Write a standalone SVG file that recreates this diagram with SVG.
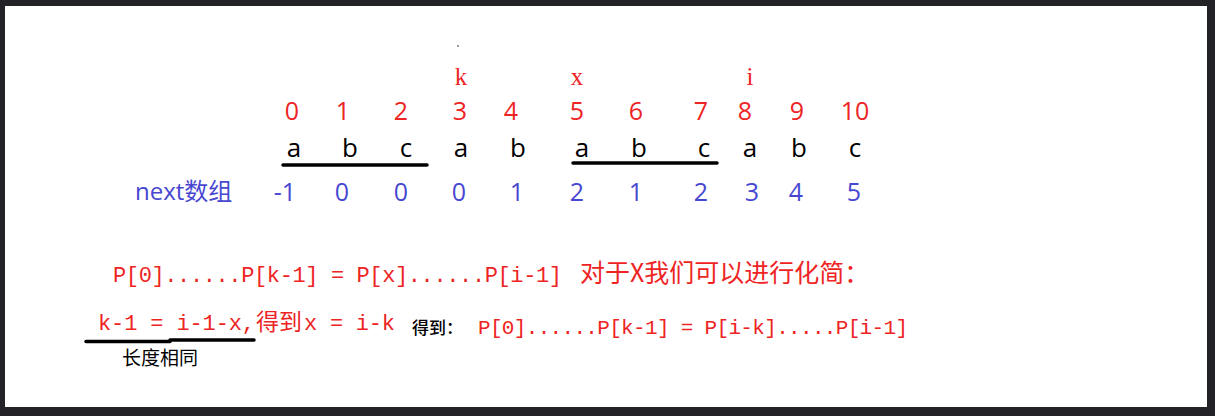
<svg xmlns="http://www.w3.org/2000/svg" width="1215" height="416" viewBox="0 0 1215 416">
<style>
.idx{font-family:"Open Sans","Noto Sans",sans-serif;font-size:25px;fill:#ee2424;text-anchor:middle}
.ch{font-family:"Open Sans","Noto Sans",sans-serif;font-size:26px;fill:#000;text-anchor:middle}
.nx{font-family:"Open Sans","Noto Sans",sans-serif;font-size:25px;fill:#4747d1;text-anchor:middle}
.ptr{font-family:"Liberation Serif",serif;font-size:25px;fill:#ee2424;text-anchor:middle}
.mono{font-family:"Liberation Mono",monospace;fill:#ee2424}
.cjk{font-family:"Noto Sans CJK SC",sans-serif}
.ul{stroke:#000;stroke-width:3.5;stroke-linecap:round;fill:none}
</style>
<rect x="0" y="0" width="1215" height="416" fill="#232327"/>
<rect x="5" y="6" width="1202" height="401" fill="#fff"/>
<rect x="457" y="45" width="2" height="2" fill="#999"/>
<g id="pointers">
<text class="ptr" x="461" y="85">k</text>
<text class="ptr" x="577" y="85">x</text>
<text class="ptr" x="750" y="85">i</text>
</g>
<g id="indices">
<text class="idx" x="292" y="120">0</text>
<text class="idx" x="343" y="120">1</text>
<text class="idx" x="401" y="120">2</text>
<text class="idx" x="460" y="120">3</text>
<text class="idx" x="511" y="120">4</text>
<text class="idx" x="577" y="120">5</text>
<text class="idx" x="636" y="120">6</text>
<text class="idx" x="701" y="120">7</text>
<text class="idx" x="745" y="120">8</text>
<text class="idx" x="797" y="120">9</text>
<text class="idx" x="855" y="120">10</text>
</g>
<g id="chars">
<text class="ch" x="294" y="157">a</text>
<text class="ch" x="350" y="157">b</text>
<text class="ch" x="406" y="157">c</text>
<text class="ch" x="461" y="157">a</text>
<text class="ch" x="518" y="157">b</text>
<text class="ch" x="582" y="157">a</text>
<text class="ch" x="639" y="157">b</text>
<text class="ch" x="704" y="157">c</text>
<text class="ch" x="750" y="157">a</text>
<text class="ch" x="799" y="157">b</text>
<text class="ch" x="855" y="157">c</text>
</g>
<g id="underlines">
<line class="ul" x1="283" y1="165" x2="427" y2="165"/>
<line class="ul" x1="573" y1="163" x2="717" y2="163"/>
</g>
<g id="next">
<text x="135" y="200" font-family="Open Sans,Noto Sans CJK SC,sans-serif" font-size="24" fill="#4747d1">next数组</text>
<text class="nx" x="285" y="201">-1</text>
<text class="nx" x="342" y="201">0</text>
<text class="nx" x="401" y="201">0</text>
<text class="nx" x="459" y="201">0</text>
<text class="nx" x="517" y="201">1</text>
<text class="nx" x="577" y="201">2</text>
<text class="nx" x="636" y="201">1</text>
<text class="nx" x="701" y="201">2</text>
<text class="nx" x="752" y="201">3</text>
<text class="nx" x="796" y="201">4</text>
<text class="nx" x="854" y="201">5</text>
</g>
<g id="line1">
<text class="mono" x="113" y="282" font-size="22" textLength="449" lengthAdjust="spacing">P[0]......P[k-1] = P[x]......P[i-1]</text>
<text class="cjk" x="580" y="282" font-size="25" fill="#ee2424">对于X我们可以进行化简：</text>
</g>
<g id="line2">
<text class="mono" x="98" y="330" font-size="22" textLength="157" lengthAdjust="spacing">k-1 = i-1-x,</text>
<text class="cjk" x="256" y="330" font-size="23" fill="#ee2424">得到</text>
<text class="mono" x="304" y="330" font-size="22" textLength="91" lengthAdjust="spacing">x = i-k</text>
<text class="cjk" x="412" y="334" font-size="17" font-weight="500" fill="#000">得到：</text>
<text class="mono" x="478" y="334" font-size="21" textLength="430" lengthAdjust="spacing">P[0]......P[k-1] = P[i-k].....P[i-1]</text>
</g>
<g id="length-note">
<line class="ul" x1="86" y1="341.5" x2="170" y2="341.5" stroke-width="3"/>
<line class="ul" x1="170" y1="340" x2="254" y2="340" stroke-width="3"/>
<text class="cjk" x="122" y="365" font-size="19" fill="#000">长度相同</text>
</g>
</svg>
